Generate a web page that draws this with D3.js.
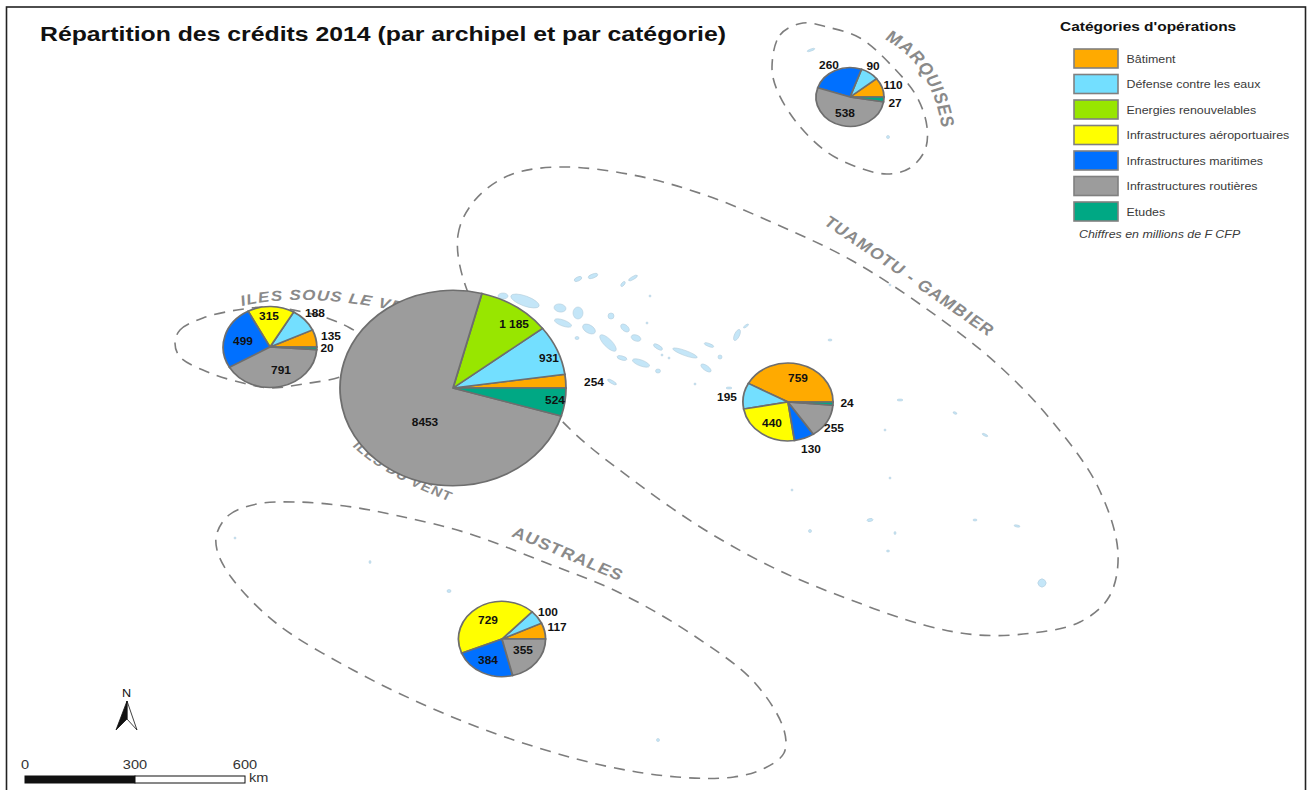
<!DOCTYPE html>
<html>
<head>
<meta charset="utf-8">
<script src="https://cdn.jsdelivr.net/npm/d3@7"></script>
<style>
html, body { margin: 0; padding: 0; background: #fff; overflow: hidden; }
svg { display: block; }
text { font-family: "Liberation Sans", Arial, sans-serif; }
</style>
</head>
<body>
<script>
var categories = ["Bâtiment", "Défense contre les eaux", "Energies renouvelables",
    "Infrastructures aéroportuaires", "Infrastructures maritimes",
    "Infrastructures routières", "Etudes"];
var colors = ["#ffaa00", "#73dfff", "#98e600", "#ffff00", "#0070ff", "#9c9c9c", "#00a884"];

// credits per archipelago, same order as categories (0 = not on the map)
var sousLeVent = [135, 188, 0, 315, 499, 791, 20];
var duVent = [254, 931, 1185, 0, 0, 8453, 524];
var tuamotu = [759, 195, 0, 440, 130, 255, 24];
var marquises = [110, 90, 0, 0, 260, 538, 27];
var australes = [117, 100, 0, 729, 384, 355, 0];

var scaleTicks = [0, 300, 600];

// map layer, in page pixels
var pies = [
    {name: "sousLeVent", values: sousLeVent, cx: 270, cy: 347,
        labels: [[331, 336], [315, 313], null, [269, 316], [243, 341], [281, 370], [327, 348]]},
    {name: "duVent", values: duVent, cx: 453, cy: 388,
        labels: [[594, 382], [549, 358], [514, 324], null, null, [425, 422], [555, 400]]},
    {name: "tuamotu", values: tuamotu, cx: 788, cy: 402,
        labels: [[798, 378], [727, 397], null, [772, 423], [811, 449], [834, 428], [847, 403]]},
    {name: "marquises", values: marquises, cx: 850, cy: 97,
        labels: [[893, 85], [873, 66], null, null, [829, 65], [845, 113], [895, 103]]},
    {name: "australes", values: australes, cx: 502, cy: 639,
        labels: [[557, 627], [548, 612], null, [488, 620], [488, 660], [523, 650], null]}
];

var outlines = [
    [[772, 67], [780, 35], [803, 23], [827, 27], [860, 38], [893, 67], [917, 97], [927, 127], [925, 150], [910, 168], [887, 174], [857, 167], [827, 152], [797, 123], [777, 90]],
    [[467, 290], [458, 235], [475, 200], [510, 175], [560, 167], [633, 175], [705, 195], [778, 225], [851, 260], [924, 307], [996, 363], [1051, 420], [1098, 487], [1118, 553], [1109, 597], [1080, 622], [1033, 633], [978, 635], [924, 625], [851, 600], [778, 570], [705, 530], [633, 480], [571, 430], [510, 360]],
    [[175, 343], [180, 330], [203, 318], [237, 310], [270, 307], [303, 312], [327, 318], [350, 328], [380, 350], [345, 375], [303, 384], [270, 388], [243, 383], [210, 373], [180, 357]],
    [[217, 533], [229, 515], [257, 504], [296, 502], [345, 506], [399, 516], [467, 533], [544, 562], [620, 593], [696, 637], [755, 683], [784, 730], [784, 753], [765, 768], [734, 777], [677, 777], [601, 765], [505, 737], [429, 707], [353, 670], [276, 623], [231, 577], [217, 550]]
];

var islands = [
    [578, 279, 4, 2, -25], [593, 276, 5, 2, -20], [623, 284, 3, 1.5, -50], [633, 278, 5, 1.5, -30],
    [525, 301, 15, 5, 20], [503, 296, 5, 3, 0], [560, 308, 6, 4, 10], [578, 313, 5, 6, 0],
    [563, 323, 9, 3, 20], [589, 329, 7, 4, 30], [608, 343, 11, 4, 45], [611, 316, 3, 3, 0],
    [625, 328, 5, 3, 40], [636, 338, 5, 3, 20], [622, 358, 5, 2, 15], [641, 363, 9, 3, 20],
    [658, 347, 5, 2, 30], [685, 353, 13, 2.5, 20], [709, 345, 5, 1.5, 20], [720, 357, 2, 2, 0],
    [706, 368, 6, 2.5, 35], [737, 335, 2.5, 6, 25], [746, 326, 3, 1, -35], [658, 371, 2.5, 2, 0],
    [612, 382, 5, 1.5, 30], [577, 338, 2, 1.5, 0], [729, 388, 3, 1, 0], [662, 355, 1, 1, 0],
    [669, 358, 1, 1, 0], [695, 384, 1, 1, 0], [647, 323, 1, 1, 0], [650, 296, 1, 1, 0],
    [1042, 583, 4, 4, 45], [1017, 526, 3, 1, 10], [975, 520, 2, 1, 0], [955, 413, 2, 1, 25],
    [985, 435, 3, 1, 25], [900, 400, 3, 1, 0], [830, 340, 2, 1, 0],
    [885, 430, 1, 1, 0], [890, 478, 1, 1, 0], [895, 533, 1, 1.5, 0], [870, 520, 3, 1.5, -10],
    [810, 531, 1.5, 1.5, 0], [888, 551, 1.5, 1, 0], [792, 490, 1, 1, 0],
    [890, 285, 1, 1, 0], [449, 591, 2, 1.5, 0], [370, 562, 1, 1.5, 0],
    [235, 538, 1, 1, 0], [658, 740, 1.5, 1.5, 0], [888, 137, 1.5, 1.5, 0], [880, 110, 1, 1, 0],
    [811, 50, 4, 1, -20]
];

var placeLabels = [
    {text: "MARQUISES", size: 16, italic: false, from: [884, 39], via: [932, 64], to: [942, 130]},
    {text: "TUAMOTU - GAMBIER", size: 15.5, italic: false, from: [823, 224], via: [910, 282], to: [1030, 366]},
    {text: "AUSTRALES", size: 15.5, italic: false, from: [511, 536], via: [565, 558], to: [640, 590]},
    {text: "ILES SOUS LE VENT", size: 14.5, italic: true, from: [242, 306], via: [310, 290], to: [420, 316]},
    {text: "ILES DU VENT", size: 13, italic: false, from: [352, 446], via: [395, 485], to: [470, 508]}
];

var width = 1311, height = 790;
var svg = d3.select("body").append("svg").attr("width", width).attr("height", height);

// the whole map is stretched sideways, text included
function place(x, y, k) {
    return "translate(" + x + "," + y + ") scale(" + k + ",1)";
}

svg.append("rect")
    .attr("x", 6.5).attr("y", 7)
    .attr("width", 1299).attr("height", 800)
    .attr("fill", "#fff").attr("stroke", "#222").attr("stroke-width", 1.6);

// islands
svg.append("g").selectAll("ellipse")
    .data(islands)
    .enter().append("ellipse")
    .attr("cx", function (d) { return d[0]; })
    .attr("cy", function (d) { return d[1]; })
    .attr("rx", function (d) { return d[2]; })
    .attr("ry", function (d) { return d[3]; })
    .attr("transform", function (d) { return "rotate(" + d[4] + " " + d[0] + " " + d[1] + ")"; })
    .attr("fill", "#c4e6f8")
    .attr("stroke", "#b5cedd")
    .attr("stroke-width", 0.6);

// dashed archipelago outlines
var outline = d3.line().curve(d3.curveCatmullRomClosed.alpha(0.5));
svg.append("g").selectAll("path")
    .data(outlines)
    .enter().append("path")
    .attr("d", outline)
    .attr("fill", "none")
    .attr("stroke", "#7d7d7d")
    .attr("stroke-width", 1.6)
    .attr("stroke-dasharray", "11 8");

// curved archipelago names
var placeStretch = 1.17;
var defs = svg.append("defs");
var placeGroup = svg.append("g").attr("transform", "scale(" + placeStretch + ",1)");
placeLabels.forEach(function (d, i) {
    defs.append("path").attr("id", "place" + i)
        .attr("d", "M" + d.from[0] / placeStretch + "," + d.from[1] +
            " Q" + d.via[0] / placeStretch + "," + d.via[1] +
            " " + d.to[0] / placeStretch + "," + d.to[1]);
    placeGroup.append("text")
        .attr("font-size", d.size)
        .attr("font-weight", "bold")
        .attr("font-style", d.italic ? "italic" : "normal")
        .attr("letter-spacing", 1)
        .attr("fill", "#8a8a8a")
        .append("textPath")
        .attr("href", "#place" + i)
        .text(d.text);
});

// pie sizes follow the total, by area
var radius = d3.scaleSqrt().domain([0, d3.sum(duVent)]).range([0, 113]);
var squash = 0.865;
var pie = d3.pie().sort(null).startAngle(Math.PI / 2).endAngle(Math.PI / 2 - 2 * Math.PI);

pies.forEach(function (p) {
    var r = radius(d3.sum(p.values));
    var arc = d3.arc().innerRadius(0).outerRadius(r);
    var g = svg.append("g")
        .attr("transform", "translate(" + p.cx + "," + p.cy + ") scale(1," + squash + ")");

    g.selectAll("path")
        .data(pie(p.values).filter(function (d) { return d.value > 0; }))
        .enter().append("path")
        .attr("d", arc)
        .attr("fill", function (d) { return colors[d.index]; })
        .attr("stroke", "#6e6e6e")
        .attr("stroke-width", 1.8);

    svg.append("g").selectAll("text")
        .data(p.values.map(function (v, i) { return {value: v, pos: p.labels[i]}; })
            .filter(function (d) { return d.value > 0; }))
        .enter().append("text")
        .attr("transform", function (d) { return place(d.pos[0], d.pos[1], 1.08); })
        .attr("text-anchor", "middle")
        .attr("dominant-baseline", "central")
        .attr("font-size", 11)
        .attr("font-weight", "bold")
        .attr("fill", "#111")
        .text(function (d) {
            return d.value >= 1000 && d.value < 2000 ? d3.format(",")(d.value).replace(",", " ") : d.value;
        });
});

// title
svg.append("text")
    .attr("x", 40).attr("y", 41)
    .attr("font-size", 21)
    .attr("font-weight", "bold")
    .attr("fill", "#111")
    .attr("textLength", 686)
    .attr("lengthAdjust", "spacingAndGlyphs")
    .text("Répartition des crédits 2014 (par archipel et par catégorie)");

// legend
svg.append("text")
    .attr("transform", place(1060, 31, 1.19))
    .attr("font-size", 13)
    .attr("font-weight", "bold")
    .attr("fill", "#111")
    .text("Catégories d'opérations");

var legendY = d3.scalePoint().domain(categories).range([58.5, 211.5]);
var legend = svg.append("g").selectAll("g")
    .data(categories)
    .enter().append("g")
    .attr("transform", function (d) { return "translate(1074," + legendY(d) + ")"; });
legend.append("rect")
    .attr("x", 0).attr("y", -9.5)
    .attr("width", 44).attr("height", 19)
    .attr("fill", function (d, i) { return colors[i]; })
    .attr("stroke", "#808080")
    .attr("stroke-width", 1.6);
legend.append("text")
    .attr("transform", place(52.5, 0, 1.13))
    .attr("dominant-baseline", "central")
    .attr("font-size", 11)
    .attr("fill", "#3a3a3a")
    .text(function (d) { return d; });

svg.append("text")
    .attr("transform", place(1079, 238, 1.13))
    .attr("font-size", 11)
    .attr("font-style", "italic")
    .attr("fill", "#3a3a3a")
    .text("Chiffres en millions de F CFP");

// north arrow
var north = svg.append("g");
north.append("path").attr("d", "M127,701 L137,730 L127,719 Z").attr("fill", "#fff").attr("stroke", "#111").attr("stroke-width", 0.8);
north.append("path").attr("d", "M127,701 L116,730 L127,719 Z").attr("fill", "#111").attr("stroke", "#111").attr("stroke-width", 0.8);
north.append("text")
    .attr("transform", place(126.5, 697, 1.15))
    .attr("text-anchor", "middle")
    .attr("font-size", 11)
    .attr("fill", "#111")
    .text("N");

// scale bar
var km = d3.scaleLinear().domain([0, 600]).range([25, 245]);
svg.append("rect")
    .attr("x", km(0)).attr("y", 776)
    .attr("width", km(300) - km(0)).attr("height", 7)
    .attr("fill", "#111").attr("stroke", "#111");
svg.append("rect")
    .attr("x", km(300)).attr("y", 776)
    .attr("width", km(600) - km(300)).attr("height", 7)
    .attr("fill", "#fff").attr("stroke", "#111");
svg.append("g").selectAll("text")
    .data(scaleTicks)
    .enter().append("text")
    .attr("transform", function (d) { return place(km(d), 769, 1.12); })
    .attr("text-anchor", "middle")
    .attr("font-size", 13)
    .attr("fill", "#333")
    .text(function (d) { return d; });
svg.append("text")
    .attr("transform", place(249, 782, 1.12))
    .attr("font-size", 13)
    .attr("fill", "#333")
    .text("km");
</script>
</body>
</html>
